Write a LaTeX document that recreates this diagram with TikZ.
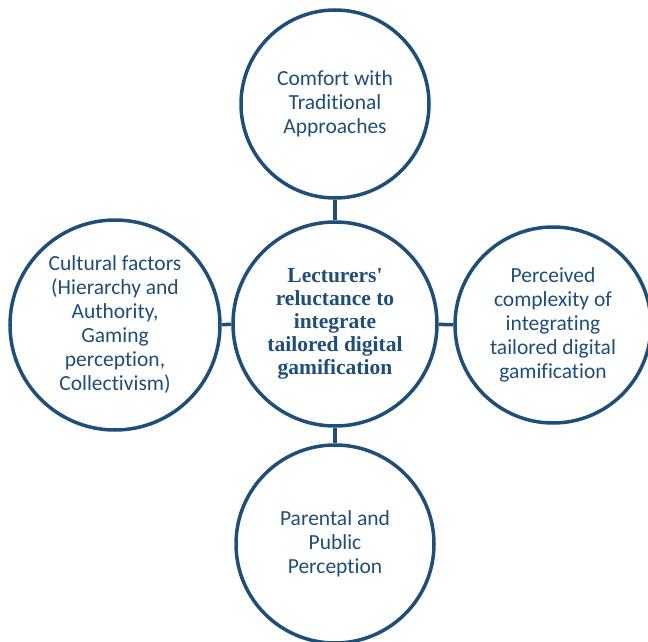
\documentclass[tikz,border=0pt]{standalone}
\usepackage{fontspec}
\setmainfont{Carlito}[Ligatures=NoCommon]
\newfontfamily\coreserif{Liberation Serif}
\definecolor{ringblue}{HTML}{1F4E79}
\tikzset{
  factor/.style={circle, draw=ringblue, line width=3.5pt, fill=white, inner sep=0pt,
    align=center, text=ringblue, font=\fontsize{21.5}{24}\selectfont},
  link/.style={draw=ringblue, line width=3.5pt}
}
\begin{document}
\begin{tikzpicture}[x=1pt,y=-1pt]
				\useasboundingbox (0,0) rectangle (648,642);
				% core and the four factors
				\node [factor, minimum size=204pt, font=\coreserif\bfseries\fontsize{21.5}{23}\selectfont] (core) at (335,324)
					{Lecturers'\\reluctance to\\integrate\\tailored digital\\gamification};
				\node [factor, minimum size=188pt] (comfort) at (335,104)
					{Comfort with\\Traditional\\Approaches};
				\node [factor, minimum size=210pt] (culture) at (115,325)
					{Cultural factors\\(Hierarchy and\\Authority,\\Gaming\\perception,\\Collectivism)};
				\node [factor, minimum size=196pt] (complex) at (553,325)
					{Perceived\\complexity of\\integrating\\tailored digital\\gamification};
				\node [factor, minimum size=198pt] (parent) at (335,544)
					{Parental and\\Public\\Perception};
				% connectors
				\draw [link] (core) -- (comfort);
				\draw [link] (core) -- (culture);
				\draw [link] (core) -- (complex);
				\draw [link] (core) -- (parent);
			\end{tikzpicture}
\end{document}
